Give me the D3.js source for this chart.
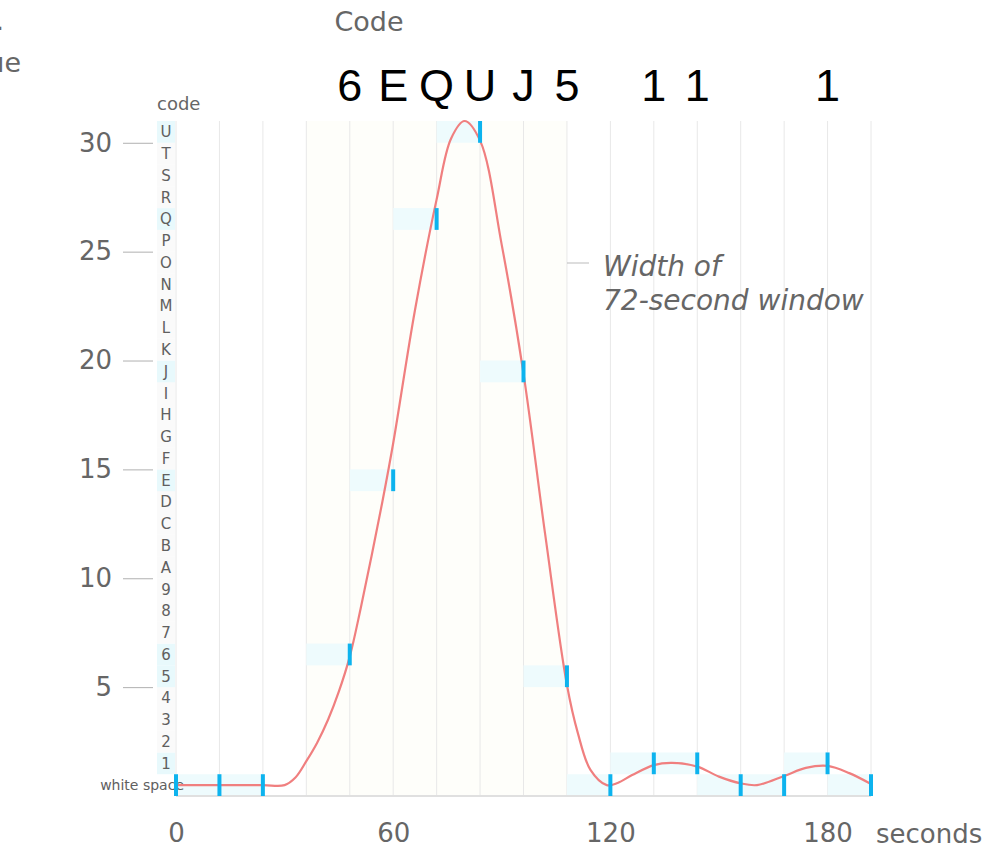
<!DOCTYPE html>
<html>
<head>
<meta charset="utf-8">
<script src="https://cdn.jsdelivr.net/npm/d3@7"></script>
<style>
  html, body { margin: 0; padding: 0; background: #fff; }
  svg { display: block; }
</style>
</head>
<body>
<svg id="chart" width="1000" height="853"></svg>
<script>
// ---- data ----
const codeChars = ["white space","1","2","3","4","5","6","7","8","9","A","B","C","D","E","F","G","H","I","J","K","L","M","N","O","P","Q","R","S","T","U"];
const sampleTimes = [0, 12, 24, 48, 60, 72, 84, 96, 108, 120, 132, 144, 156, 168, 180, 192];
const sampleCodes = [0, 0, 0, 6, 14, 26, 30, 19, 5, 0, 1, 1, 0, 0, 1, 0];
const curveTimes  = [0, 12, 24, 30, 33, 36, 39, 42, 45, 48, 51, 54, 57, 60, 66, 72, 76, 79.7, 84, 90, 96, 102, 108, 111, 114.5, 119, 122, 126, 132, 137, 144, 150, 156, 160.5, 168, 174, 180, 186, 192];
const curveValues = [0.5, 0.5, 0.5, 0.5, 0.85, 1.6, 2.45, 3.5, 4.8, 6.4, 8.6, 11.0, 13.5, 16.2, 22.3, 27.4, 30.2, 31.0, 30.1, 25.3, 19.4, 12.0, 5.1, 2.9, 1.2, 0.5, 0.6, 0.96, 1.42, 1.52, 1.35, 0.89, 0.58, 0.5, 0.92, 1.29, 1.38, 1.05, 0.55];
const yTicks = [5, 10, 15, 20, 25, 30];
const xTicks = [0, 60, 120, 180];
const gridTimes = d3.range(0, 193, 12);
const windowStart = 36, windowEnd = 108;
const sampleStep = 12;

// ---- layout ----
const svg = d3.select("#chart");
const x = d3.scaleLinear().domain([0, 192]).range([176, 871]);
const y = d3.scaleLinear().domain([0, 31]).range([796, 121]);
const grayFont = "'DejaVu Sans', sans-serif";

svg.append("defs").append("clipPath").attr("id", "plotclip")
  .append("rect").attr("x", x(0)).attr("y", y(31)).attr("width", x(192) - x(0)).attr("height", y(0) - y(31));

// window band
svg.append("rect")
  .attr("x", x(windowStart)).attr("y", y(31))
  .attr("width", x(windowEnd) - x(windowStart)).attr("height", y(0) - y(31))
  .attr("fill", "#fefefa");

// vertical grid
svg.append("g").selectAll("line").data(gridTimes).join("line")
  .attr("x1", d => x(d)).attr("x2", d => x(d))
  .attr("y1", y(31)).attr("y2", y(0))
  .attr("stroke", "#e8e8e8").attr("stroke-width", 1);

// letter column backgrounds
const used = new Set(sampleCodes.filter(c => c !== 0));
svg.append("g").selectAll("rect").data(d3.range(1, codeChars.length)).join("rect")
  .attr("x", 157).attr("width", 18)
  .attr("y", d => y(d + 1)).attr("height", d => y(d) - y(d + 1))
  .attr("fill", d => used.has(d) ? "#e8f9fc" : "#fafafa");

// sample interval shading
const plot = svg.append("g").attr("clip-path", "url(#plotclip)");
const samples = sampleTimes.map((t, i) => ({t, c: sampleCodes[i]}));
plot.append("g").selectAll("rect").data(samples).join("rect")
  .attr("x", d => x(d.t - sampleStep)).attr("width", x(sampleStep) - x(0))
  .attr("y", d => y(d.c + 1)).attr("height", d => y(d.c) - y(d.c + 1))
  .attr("fill", "#eefbfd");

// letter column labels
svg.append("g").selectAll("text").data(d3.range(0, codeChars.length)).join("text")
  .attr("x", d => d === 0 ? 184 : 166)
  .attr("y", d => y(d + 0.5))
  .attr("dy", "0.36em")
  .attr("text-anchor", d => d === 0 ? "end" : "middle")
  .attr("font-family", grayFont)
  .attr("font-size", d => d === 0 ? 14 : 15)
  .attr("fill", "#606060")
  .text(d => codeChars[d]);

svg.append("text").attr("x", 157).attr("y", 110)
  .attr("font-family", grayFont).attr("font-size", 18).attr("fill", "#666")
  .text("code");

// x baseline
svg.append("line").attr("x1", x(0)).attr("x2", x(192)).attr("y1", y(0)).attr("y2", y(0))
  .attr("stroke", "#e0e0e0").attr("stroke-width", 2);

// smoothed curve
const curveData = curveTimes.map((t, i) => [t, curveValues[i]]);
svg.append("path").datum(curveData)
  .attr("d", d3.line().x(d => x(d[0])).y(d => y(d[1])).curve(d3.curveCatmullRom.alpha(0.5)))
  .attr("fill", "none").attr("stroke", "#f07f7f").attr("stroke-width", 2.2);

// sample ticks
svg.append("g").selectAll("line").data(samples).join("line")
  .attr("x1", d => x(d.t)).attr("x2", d => x(d.t))
  .attr("y1", d => y(d.c + 1)).attr("y2", d => y(d.c))
  .attr("stroke", "#0db3ee").attr("stroke-width", 4);

// message characters
svg.append("g").selectAll("text").data(samples.filter(d => d.c !== 0)).join("text")
  .attr("x", d => x(d.t)).attr("y", 101)
  .attr("text-anchor", "middle")
  .attr("font-family", "'Liberation Sans', Arial, sans-serif")
  .attr("font-size", 45).attr("fill", "#000")
  .text(d => codeChars[d.c]);

svg.append("text").attr("x", 369).attr("y", 31).attr("text-anchor", "middle")
  .attr("font-family", grayFont).attr("font-size", 27).attr("fill", "#666")
  .text("Code");

// y axis
const yAxis = svg.append("g").attr("transform", "translate(153,0)")
  .call(d3.axisLeft(y).tickValues(yTicks).tickSize(30).tickPadding(11).tickFormat(d3.format("d")));
yAxis.select(".domain").remove();
yAxis.selectAll(".tick line").attr("stroke", "#b0b0b0");
yAxis.selectAll(".tick text").attr("font-family", grayFont).attr("font-size", 26).attr("fill", "#666");

// x axis
const xAxis = svg.append("g").attr("transform", `translate(0,${y(0)})`)
  .call(d3.axisBottom(x).tickValues(xTicks).tickSize(0).tickPadding(28).tickFormat(d3.format("d")));
xAxis.select(".domain").remove();
xAxis.selectAll(".tick text").attr("font-family", grayFont).attr("font-size", 26).attr("fill", "#666");

svg.append("text").attr("x", 876).attr("y", 843)
  .attr("font-family", grayFont).attr("font-size", 26).attr("fill", "#666")
  .text("seconds");

// y title, clipped at the left edge as in the reference
svg.append("text").attr("x", 4).attr("y", 30).attr("text-anchor", "end")
  .attr("font-family", grayFont).attr("font-size", 27).attr("fill", "#666").text("Avg.");
svg.append("text").attr("x", 21).attr("y", 72).attr("text-anchor", "end")
  .attr("font-family", grayFont).attr("font-size", 27).attr("fill", "#666").text("code value");

// annotation
svg.append("line").attr("x1", 567).attr("x2", 589).attr("y1", 263).attr("y2", 263)
  .attr("stroke", "#bbb").attr("stroke-width", 1);
const ann = svg.append("text").attr("font-family", grayFont).attr("font-size", 28)
  .attr("font-style", "italic").attr("fill", "#666");
ann.append("tspan").attr("x", 603).attr("y", 276).text("Width of");
ann.append("tspan").attr("x", 603).attr("y", 310).text("72-second window");
</script>
</body>
</html>
